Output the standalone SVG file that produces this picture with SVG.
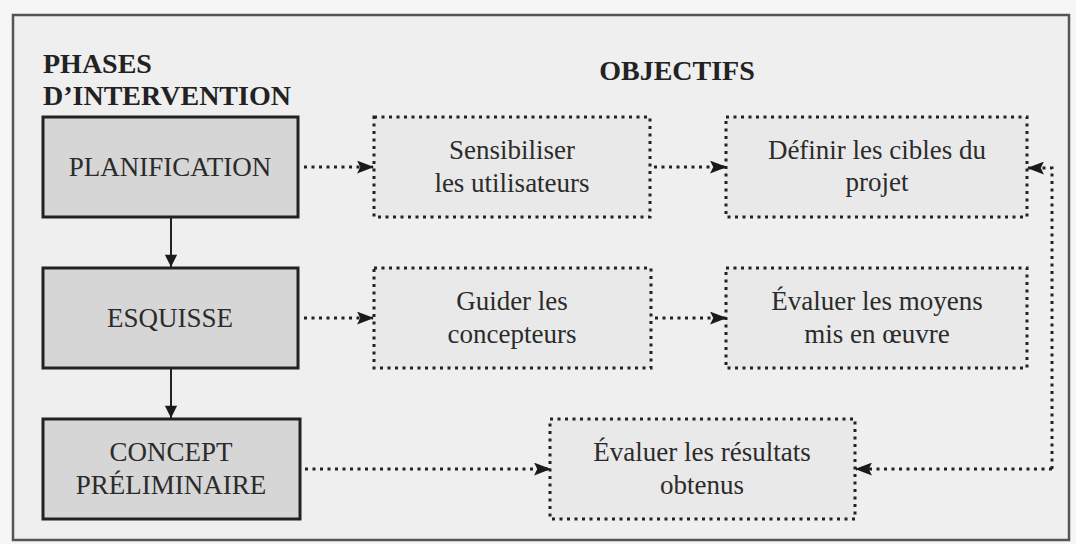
<svg xmlns="http://www.w3.org/2000/svg" width="1076" height="544" viewBox="0 0 1076 544">
  <defs>
    <marker id="ah" viewBox="0 0 16 12" refX="15" refY="6" markerWidth="17" markerHeight="13" markerUnits="userSpaceOnUse" orient="auto">
      <path d="M0,0 L16,6 L0,12 L3,6 z" fill="#1a1a1a"/>
    </marker>
    <marker id="ahs" viewBox="0 0 14 16" refX="14" refY="7" markerWidth="16" markerHeight="14" markerUnits="userSpaceOnUse" orient="auto">
      <path d="M0,0 L14,7 L0,14 z" fill="#1a1a1a"/>
    </marker>
    <style>
      .phase { fill: #d6d6d6; stroke: #222; stroke-width: 3; }
      .obj { fill: #e9e9e9; stroke: #222; stroke-width: 3; stroke-dasharray: 3 4.5; }
      .t { font-family: "Liberation Serif", "Times New Roman", serif; font-size: 27px; fill: #2b2b2b; text-anchor: middle; }
      .h { font-family: "Liberation Serif", "Times New Roman", serif; font-size: 28px; font-weight: bold; fill: #222; }
      .dot { fill: none; stroke: #222; stroke-width: 3; stroke-dasharray: 3 4.5; marker-end: url(#ah); }
      .solid { fill: none; stroke: #222; stroke-width: 2; marker-end: url(#ahs); }
    </style>
  </defs>
  <rect x="0" y="0" width="1076" height="544" fill="#f6f6f6"/>
  <rect id="frame" x="13" y="15" width="1056" height="525" fill="#efefef" stroke="#555" stroke-width="2.5"/>

  <g id="headers">
    <text class="h" x="43" y="73">PHASES</text>
    <text class="h" x="43" y="105">D’INTERVENTION</text>
    <text class="h" x="677" y="80" text-anchor="middle">OBJECTIFS</text>
  </g>

  <g id="planification">
    <rect class="phase" x="43" y="117" width="255" height="100"/>
    <text class="t" x="170" y="176">PLANIFICATION</text>
  </g>
  <g id="esquisse">
    <rect class="phase" x="43" y="268" width="255" height="100"/>
    <text class="t" x="170" y="327">ESQUISSE</text>
  </g>
  <g id="concept">
    <rect class="phase" x="43" y="419" width="257" height="100"/>
    <text class="t" x="171" y="461">CONCEPT</text>
    <text class="t" x="171" y="494">PRÉLIMINAIRE</text>
  </g>

  <g id="sensibiliser">
    <rect class="obj" x="374" y="117" width="276" height="100"/>
    <text class="t" x="512" y="159">Sensibiliser</text>
    <text class="t" x="512" y="192">les utilisateurs</text>
  </g>
  <g id="definir">
    <rect class="obj" x="726" y="117" width="301" height="100"/>
    <text class="t" x="877" y="159">Définir les cibles du</text>
    <text class="t" x="877" y="191">projet</text>
  </g>
  <g id="guider">
    <rect class="obj" x="374" y="268" width="277" height="100"/>
    <text class="t" x="512" y="310">Guider les</text>
    <text class="t" x="512" y="343">concepteurs</text>
  </g>
  <g id="evaluer-moyens">
    <rect class="obj" x="726" y="268" width="301" height="100"/>
    <text class="t" x="877" y="310">Évaluer les moyens</text>
    <text class="t" x="877" y="343">mis en œuvre</text>
  </g>
  <g id="evaluer-resultats">
    <rect class="obj" x="550" y="419" width="305" height="100"/>
    <text class="t" x="702" y="461">Évaluer les résultats</text>
    <text class="t" x="702" y="494">obtenus</text>
  </g>

  <g id="connectors">
    <path class="solid" d="M171,218 V267"/>
    <path class="solid" d="M171,369 V418"/>
    <path class="dot" d="M304,167 H373"/>
    <path class="dot" d="M654,167 H726"/>
    <path class="dot" d="M304,318 H373"/>
    <path class="dot" d="M655,318 H726"/>
    <path class="dot" d="M305,469 H550"/>
    <path class="dot" d="M1052,469 H856"/>
    <path class="dot" d="M1052,469 V168 H1028"/>
  </g>
</svg>
